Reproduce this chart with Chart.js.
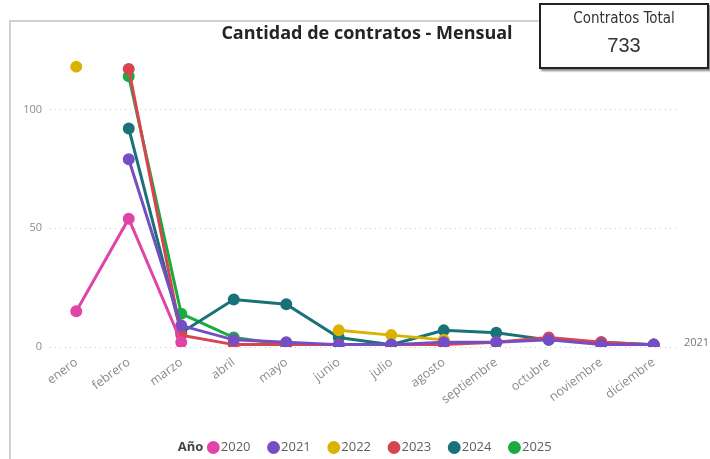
<!DOCTYPE html>
<html>
<head>
<meta charset="utf-8">
<script src="https://cdn.jsdelivr.net/npm/chart.js@4"></script>
<style>
  html, body { margin: 0; padding: 0; background: #fff; overflow: hidden; }
  body { width: 710px; height: 459px; position: relative; font-family: "Open Sans", "Noto Sans", sans-serif; }
  #frame { position: absolute; left: 9px; top: 20px; width: 800px; height: 500px; border: 2px solid #d2d2d2; }
  #title { position: absolute; left: 0; width: 734px; top: 20px; text-align: center; font-size: 18px; font-weight: bold; color: #252423; }
  #card { position: absolute; left: 539px; top: 3px; width: 166px; height: 62px; border: 2px solid #222; background: #fff; box-shadow: 2px 2px 2px #888; text-align: center; }
  #card .lbl { font-family: "DejaVu Sans Condensed", "Liberation Sans Narrow", sans-serif; font-size: 15px; color: #333; margin-top: 4px; }
  #card .val { font-family: "Liberation Sans", sans-serif; font-size: 20px; color: #333; margin-top: 7px; }
  #wrap { position: absolute; left: 0; top: 0; width: 710px; height: 459px; }
</style>
</head>
<body>
<div id="frame"></div>
<div id="wrap"><canvas id="contratosChart"></canvas></div>
<div id="title">Cantidad de contratos - Mensual</div>
<div id="card"><div class="lbl">Contratos Total</div><div class="val">733</div></div>
<script>
  // Meses del eje X
  const months = ['enero', 'febrero', 'marzo', 'abril', 'mayo', 'junio', 'julio',
    'agosto', 'septiembre', 'octubre', 'noviembre', 'diciembre'];

  // Contratos por año (null = sin dato)
  const years = ['2020', '2021', '2022', '2023', '2024', '2025'];
  const v2020 = [15, 54, 2, null, null, null, null, null, null, null, null, null];
  const v2021 = [null, 79, 9, 3, 2, 1, 1, 2, 2, 3, 1, 1];
  const v2022 = [118, null, null, null, null, 7, 5, 3, null, null, null, null];
  const v2023 = [null, 117, 5, 1, 1, 1, 1, 1, 2, 4, 2, 1];
  const v2024 = [null, 92, 6, 20, 18, 4, 1, 7, 6, 3, 2, 1];
  const v2025 = [null, 114, 14, 4, 1, null, null, null, null, null, null, null];
  const yTicks = [0, 50, 100];

  const seriesValues = [v2020, v2021, v2022, v2023, v2024, v2025];
  const colors = ['#E044A7', '#744EC2', '#D9B300', '#D64550', '#197278', '#1AAB40'];

  // Draw "Año" before the legend and nudge the legend right / down
  const legendTitlePlugin = {
    id: 'legendTitle',
    afterLayout(chart) {
      chart.legend.left += 42;
      chart.legend.right += 42;
      chart.legend.top += 5;
      chart.legend.bottom += 5;
    },
    afterDraw(chart) {
      const boxes = chart.legend.legendHitBoxes;
      if (!boxes || !boxes.length) return;
      const ctx = chart.ctx;
      ctx.save();
      ctx.font = 'bold 13px "Open Sans", sans-serif';
      ctx.fillStyle = '#444';
      ctx.textAlign = 'right';
      ctx.textBaseline = 'middle';
      ctx.fillText('Año', boxes[0].left - 9, boxes[0].top + boxes[0].height / 2);
      ctx.restore();
    }
  };

  // Series label at the end of the 2021 line
  const endLabelPlugin = {
    id: 'endLabel',
    afterDatasetsDraw(chart) {
      const meta = chart.getDatasetMeta(1);
      const last = meta.data[meta.data.length - 1];
      const ctx = chart.ctx;
      ctx.save();
      ctx.font = '11px "Open Sans", sans-serif';
      ctx.fillStyle = '#777';
      ctx.textBaseline = 'middle';
      ctx.fillText(years[1], chart.chartArea.right + 4, last.y - 2);
      ctx.restore();
    }
  };

  const ctx = document.getElementById('contratosChart').getContext('2d');
  new Chart(ctx, {
    type: 'line',
    data: {
      labels: months,
      datasets: years.map((y, i) => ({
        label: y,
        data: seriesValues[i],
        borderColor: colors[i],
        backgroundColor: colors[i],
        borderWidth: 3,
        pointRadius: 4.5,
        pointHoverRadius: 5,
        tension: 0
      }))
    },
    options: {
      responsive: true,
      maintainAspectRatio: false,
      animation: false,
      layout: { padding: { top: 50, right: 30, left: 0, bottom: 0 } },
      plugins: {
        legend: {
          position: 'bottom',
          labels: {
            usePointStyle: true,
            pointStyle: 'circle',
            boxWidth: 2,
            boxHeight: 7,
            padding: 22,
            color: '#605E5C',
            font: { size: 13, family: '"Open Sans", sans-serif' }
          }
        },
        tooltip: { enabled: false }
      },
      scales: {
        x: {
          offset: true,
          grid: { display: false, drawTicks: false },
          border: { display: false },
          ticks: {
            color: '#8a8a8a',
            font: { size: 12.5, family: '"Open Sans", sans-serif' },
            maxRotation: 37,
            minRotation: 37,
            padding: 8
          },
          afterFit(scale) { scale.height = 67; }
        },
        y: {
          min: 0,
          max: 125,
          grid: { color: '#c8c8c8', drawTicks: false, lineWidth: 1 },
          border: { display: false, dash: [1, 4] },
          ticks: {
            color: '#8a8a8a',
            font: { size: 11, family: '"Open Sans", sans-serif' },
            padding: 8
          },
          afterBuildTicks(scale) { scale.ticks = yTicks.map(v => ({ value: v })); },
          afterFit(scale) { scale.width = 50; }
        }
      }
    },
    plugins: [legendTitlePlugin, endLabelPlugin]
  });
</script>
</body>
</html>
